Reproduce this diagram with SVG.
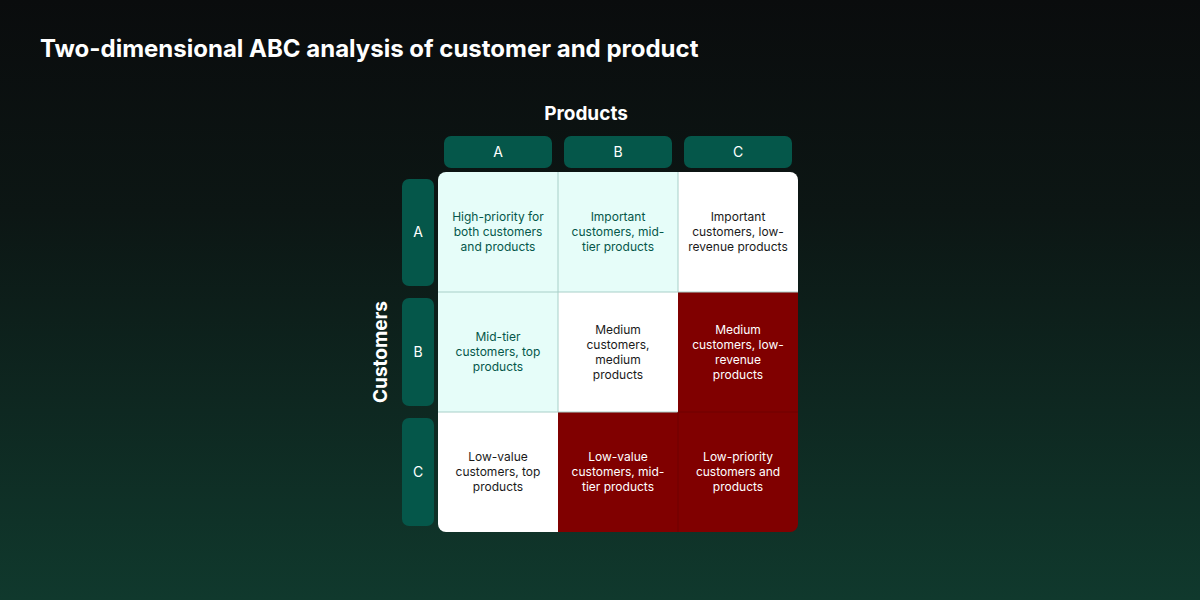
<svg xmlns="http://www.w3.org/2000/svg" width="1200" height="600" viewBox="0 0 1200 600">
<defs>
<linearGradient id="bg" x1="0" y1="0" x2="0" y2="1">
<stop offset="0" stop-color="#0a0c0d"/><stop offset="0.35" stop-color="#0c1614"/><stop offset="1" stop-color="#10392d"/>
</linearGradient>
<clipPath id="gc"><rect x="438" y="172" width="360" height="360" rx="8"/></clipPath>
</defs>
<style>
text{font-family:Inter,"Liberation Sans",sans-serif}
.hd{fill:#05574a}
.hl{fill:#fff;font-size:14px;text-anchor:middle}
.c{font-size:12px;text-anchor:middle}
.g{fill:#05574a}.k{fill:#1a1a1a}.w{fill:#fff}
.ln{stroke:#a8cfc8;stroke-width:1}
</style>
<rect width="1200" height="600" fill="url(#bg)"/>
<text x="40" y="57" fill="#fff" font-size="24" font-weight="bold">Two-dimensional ABC analysis of customer and product</text>
<text x="586" y="120" fill="#fff" font-size="19" font-weight="bold" text-anchor="middle">Products</text>
<text transform="translate(387,352) rotate(-90)" fill="#fff" font-size="19" font-weight="bold" text-anchor="middle">Customers</text>
<g id="colA"><rect class="hd" x="444" y="136" width="108" height="32" rx="7"/><text class="hl" x="498" y="157">A</text></g>
<g id="colB"><rect class="hd" x="564" y="136" width="108" height="32" rx="7"/><text class="hl" x="618" y="157">B</text></g>
<g id="colC"><rect class="hd" x="684" y="136" width="108" height="32" rx="7"/><text class="hl" x="738" y="157">C</text></g>
<g id="rowA"><rect class="hd" x="402" y="179" width="32" height="107" rx="7"/><text class="hl" x="418" y="237">A</text></g>
<g id="rowB"><rect class="hd" x="402" y="298" width="32" height="108" rx="7"/><text class="hl" x="418" y="357">B</text></g>
<g id="rowC"><rect class="hd" x="402" y="418" width="32" height="108" rx="7"/><text class="hl" x="418" y="477">C</text></g>
<g clip-path="url(#gc)">
<g id="AA"><rect x="438" y="172" width="120" height="120" fill="#e6fdf9"/><text class="c g" x="498"><tspan x="498" y="221">High-priority for</tspan><tspan x="498" y="236">both customers</tspan><tspan x="498" y="251">and products</tspan></text></g>
<g id="AB"><rect x="558" y="172" width="120" height="120" fill="#e6fdf9"/><text class="c g"><tspan x="618" y="221">Important</tspan><tspan x="618" y="236">customers, mid-</tspan><tspan x="618" y="251">tier products</tspan></text></g>
<g id="AC"><rect x="678" y="172" width="120" height="120" fill="#fff"/><text class="c k"><tspan x="738" y="221">Important</tspan><tspan x="738" y="236">customers, low-</tspan><tspan x="738" y="251">revenue products</tspan></text></g>
<g id="BA"><rect x="438" y="292" width="120" height="120" fill="#e6fdf9"/><text class="c g"><tspan x="498" y="341">Mid-tier</tspan><tspan x="498" y="356">customers, top</tspan><tspan x="498" y="371">products</tspan></text></g>
<g id="BB"><rect x="558" y="292" width="120" height="120" fill="#fff"/><text class="c k"><tspan x="618" y="334">Medium</tspan><tspan x="618" y="349">customers,</tspan><tspan x="618" y="364">medium</tspan><tspan x="618" y="379">products</tspan></text></g>
<g id="BC"><rect x="678" y="292" width="120" height="120" fill="#800000"/><text class="c w"><tspan x="738" y="334">Medium</tspan><tspan x="738" y="349">customers, low-</tspan><tspan x="738" y="364">revenue</tspan><tspan x="738" y="379">products</tspan></text></g>
<g id="CA"><rect x="438" y="412" width="120" height="120" fill="#fff"/><text class="c k"><tspan x="498" y="461">Low-value</tspan><tspan x="498" y="476">customers, top</tspan><tspan x="498" y="491">products</tspan></text></g>
<g id="CB"><rect x="558" y="412" width="120" height="120" fill="#800000"/><text class="c w"><tspan x="618" y="461">Low-value</tspan><tspan x="618" y="476">customers, mid-</tspan><tspan x="618" y="491">tier products</tspan></text></g>
<g id="CC"><rect x="678" y="412" width="120" height="120" fill="#800000"/><text class="c w"><tspan x="738" y="461">Low-priority</tspan><tspan x="738" y="476">customers and</tspan><tspan x="738" y="491">products</tspan></text></g>
<g id="lines">
<line class="ln" x1="558" y1="172" x2="558" y2="412"/><line class="ln" x1="678" y1="172" x2="678" y2="292"/>
<line class="ln" x1="438" y1="292" x2="798" y2="292"/><line class="ln" x1="438" y1="412" x2="678" y2="412"/>
<line x1="678" y1="412" x2="678" y2="532" stroke="#6e0000"/><line x1="678" y1="412" x2="798" y2="412" stroke="#6e0000"/>
</g>
</g>
</svg>
